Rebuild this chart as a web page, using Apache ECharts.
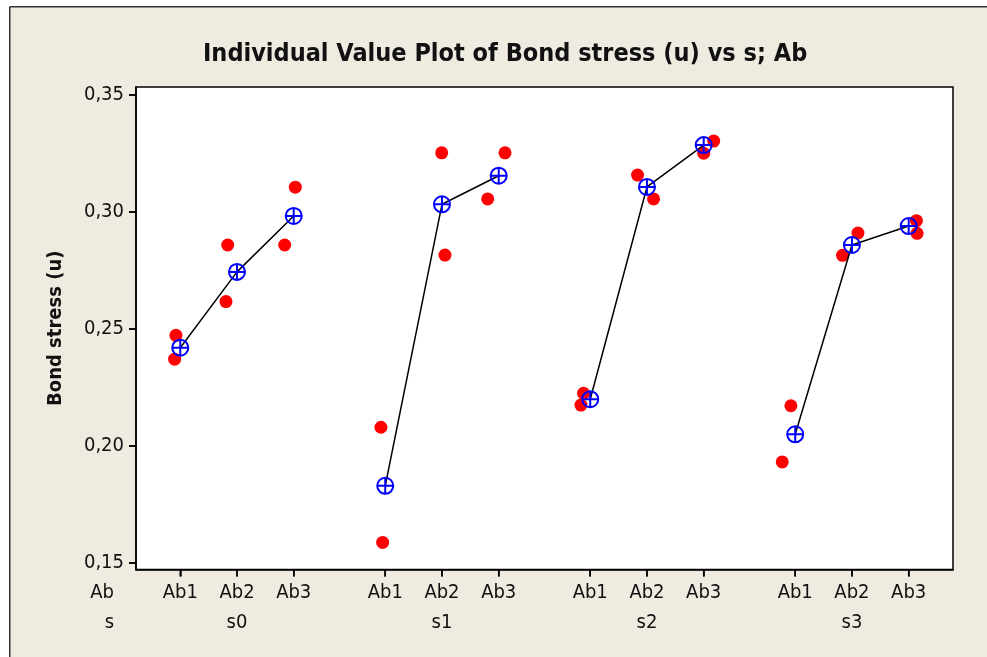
<!DOCTYPE html>
<html>
<head>
<meta charset="utf-8">
<script src="https://cdn.jsdelivr.net/npm/echarts@6/dist/echarts.min.js"></script>
<style>html,body{margin:0;padding:0;background:#fff}#c{width:987px;height:657px}</style>
</head>
<body>
<div id="c"></div>
<script>
// ---- data ----
const groups = ['s0', 's1', 's2', 's3'];
const levels = ['Ab1', 'Ab2', 'Ab3'];
// individual values: [group][level] -> two observations
const obsA = [
  [0.2473, 0.2859, 0.3106],
  [0.2080, 0.3253, 0.3253],
  [0.2225, 0.3158, 0.3303],
  [0.2172, 0.2910, 0.2963]
];
const obsB = [
  [0.2371, 0.2617, 0.2859],
  [0.1588, 0.2816, 0.3056],
  [0.2175, 0.3056, 0.3251],
  [0.1932, 0.2815, 0.2909]
];
// horizontal jitter of each observation (in category units), as seen in the picture
const jitterA = [
  [-0.076, -0.164, 0.028],
  [-0.076, -0.005, 0.111],
  [-0.118, -0.166, 0.176],
  [-0.076, 0.106, 0.136]
];
const jitterB = [
  [-0.099, -0.194, -0.159],
  [-0.046, 0.053, -0.194],
  [-0.164, 0.116, 0.000],
  [-0.229, -0.166, 0.148]
];
// group means (blue crossed circles)
const means = [
  [0.2420, 0.2744, 0.2983],
  [0.1830, 0.3033, 0.3155],
  [0.2200, 0.3107, 0.3286],
  [0.2050, 0.2859, 0.2940]
];
const yTicks = [0.15, 0.20, 0.25, 0.30, 0.35];

// ---- layout helpers ----
const GROUP_STEP = 3.613;
const X_MIN = -0.78, X_MAX = 13.62;
const Y_MIN = 0.14722, Y_MAX = 0.35342;
const pos = (g, l) => g * GROUP_STEP + l;
const xTickVals = [];
const xTickText = [];
groups.forEach((g, gi) => levels.forEach((l, li) => {
  xTickVals.push(pos(gi, li));
  xTickText.push(li === 1 ? l + '\n' + g : l + '\n ');
}));

const pts = [];
groups.forEach((g, gi) => levels.forEach((l, li) => {
  pts.push([pos(gi, li) + jitterA[gi][li], obsA[gi][li]]);
  pts.push([pos(gi, li) + jitterB[gi][li], obsB[gi][li]]);
}));

const FONT = '"DejaVu Sans Condensed", "DejaVu Sans", sans-serif';
const meanSymbol = 'path://M10,0 A10,10 0 1 1 10,20 A10,10 0 1 1 10,0 Z M0,10 L20,10 M10,0 L10,20';
const TICK_LEN = 7;

const series = [{
  type: 'scatter',
  data: pts,
  symbol: 'circle',
  symbolSize: 13,
  itemStyle: { color: '#ff0000', opacity: 1 },
  z: 3,
  silent: true
}];
groups.forEach((g, gi) => {
  series.push({
    type: 'line',
    data: levels.map((l, li) => [pos(gi, li), means[gi][li]]),
    symbol: meanSymbol,
    symbolSize: 16,
    showSymbol: true,
    lineStyle: { color: '#000', width: 1.5 },
    itemStyle: { color: 'rgba(0,0,0,0)', borderColor: '#0000ff', borderWidth: 2 },
    z: 4,
    silent: true,
    animation: false
  });
});

const baseGraphic = [
  { id: 'wt', type: 'rect', z: 100, shape: { x: 0, y: 0, width: 987, height: 6.5 }, style: { fill: '#fff' } },
  { id: 'wl', type: 'rect', z: 100, shape: { x: 0, y: 0, width: 9.5, height: 657 }, style: { fill: '#fff' } },
  { id: 'ft', type: 'line', z: 101, shape: { x1: 9.75, y1: 6.75, x2: 987, y2: 6.75 }, style: { stroke: '#333', lineWidth: 1.5 } },
  { id: 'fl', type: 'line', z: 101, shape: { x1: 9.75, y1: 6.75, x2: 9.75, y2: 657 }, style: { stroke: '#333', lineWidth: 1.5 } },
  { id: 'tab', type: 'text', x: 114, y: 593, z: 10,
    style: { text: 'Ab', font: '20px ' + FONT, fill: '#111', align: 'right', verticalAlign: 'middle' } },
  { id: 'ts', type: 'text', x: 114, y: 623, z: 10,
    style: { text: 's', font: '20px ' + FONT, fill: '#111', align: 'right', verticalAlign: 'middle' } }
];

const chart = echarts.init(document.getElementById('c'), null, { renderer: 'canvas' });
chart.setOption({
  animation: false,
  backgroundColor: '#efebe1',
  graphic: baseGraphic,
  title: {
    text: 'Individual Value Plot of Bond stress (u) vs s; Ab',
    left: 198, top: 37,
    textStyle: { fontFamily: FONT, fontWeight: 'bold', fontSize: 25, color: '#111' }
  },
  grid: {
    left: 136, top: 87, right: 34, bottom: 87.5,
    show: true, backgroundColor: '#fff', borderColor: '#000', borderWidth: 1.5
  },
  xAxis: {
    type: 'value', min: X_MIN, max: X_MAX,
    splitLine: { show: false },
    axisLine: { show: true, onZero: false, lineStyle: { color: '#000', width: 1.5 } },
    axisTick: { show: true, inside: false, length: TICK_LEN, customValues: xTickVals, lineStyle: { color: '#000', width: 1.5 } },
    axisLabel: {
      customValues: xTickVals,
      formatter: (v) => {
        let bi = 0, bd = 1e9;
        xTickVals.forEach((t, i) => { const d = Math.abs(t - v); if (d < bd) { bd = d; bi = i; } });
        return xTickText[bi];
      },
      fontFamily: FONT, fontSize: 20, color: '#111', lineHeight: 30, margin: 8
    }
  },
  yAxis: {
    type: 'value', min: Y_MIN, max: Y_MAX,
    name: 'Bond stress (u)', nameLocation: 'middle', nameRotate: 90, nameGap: 70,
    nameTextStyle: { fontFamily: FONT, fontWeight: 'bold', fontSize: 20, color: '#111' },
    splitLine: { show: false },
    axisLine: { show: true, onZero: false, lineStyle: { color: '#000', width: 1.5 } },
    axisTick: { show: true, inside: false, length: TICK_LEN, customValues: yTicks, lineStyle: { color: '#000', width: 1.5 } },
    axisLabel: {
      customValues: yTicks,
      formatter: (v) => v.toFixed(2).replace('.', ','),
      fontFamily: FONT, fontSize: 20, color: '#111', margin: 12
    }
  },
  series: series
});

// tick marks placed through the axes' own scales (after the chart has laid out)
function addTicks() {
  const tickGraphic = [];
  yTicks.forEach((v, i) => {
    const p = chart.convertToPixel({ xAxisIndex: 0, yAxisIndex: 0 }, [X_MIN, v]);
    if (!p || !isFinite(p[0]) || !isFinite(p[1])) return;
    tickGraphic.push({ id: 'yt' + i, type: 'line', z: 50,
      shape: { x1: p[0] - TICK_LEN, y1: p[1], x2: p[0], y2: p[1] },
      style: { stroke: '#000', lineWidth: 1.5 } });
  });
  xTickVals.forEach((v, i) => {
    const p = chart.convertToPixel({ xAxisIndex: 0, yAxisIndex: 0 }, [v, Y_MIN]);
    if (!p || !isFinite(p[0]) || !isFinite(p[1])) return;
    tickGraphic.push({ id: 'xt' + i, type: 'line', z: 50,
      shape: { x1: p[0], y1: p[1], x2: p[0], y2: p[1] + TICK_LEN },
      style: { stroke: '#000', lineWidth: 1.5 } });
  });
  chart.setOption({ graphic: baseGraphic.concat(tickGraphic) });
}
setTimeout(addTicks, 0);
</script>
</body>
</html>
